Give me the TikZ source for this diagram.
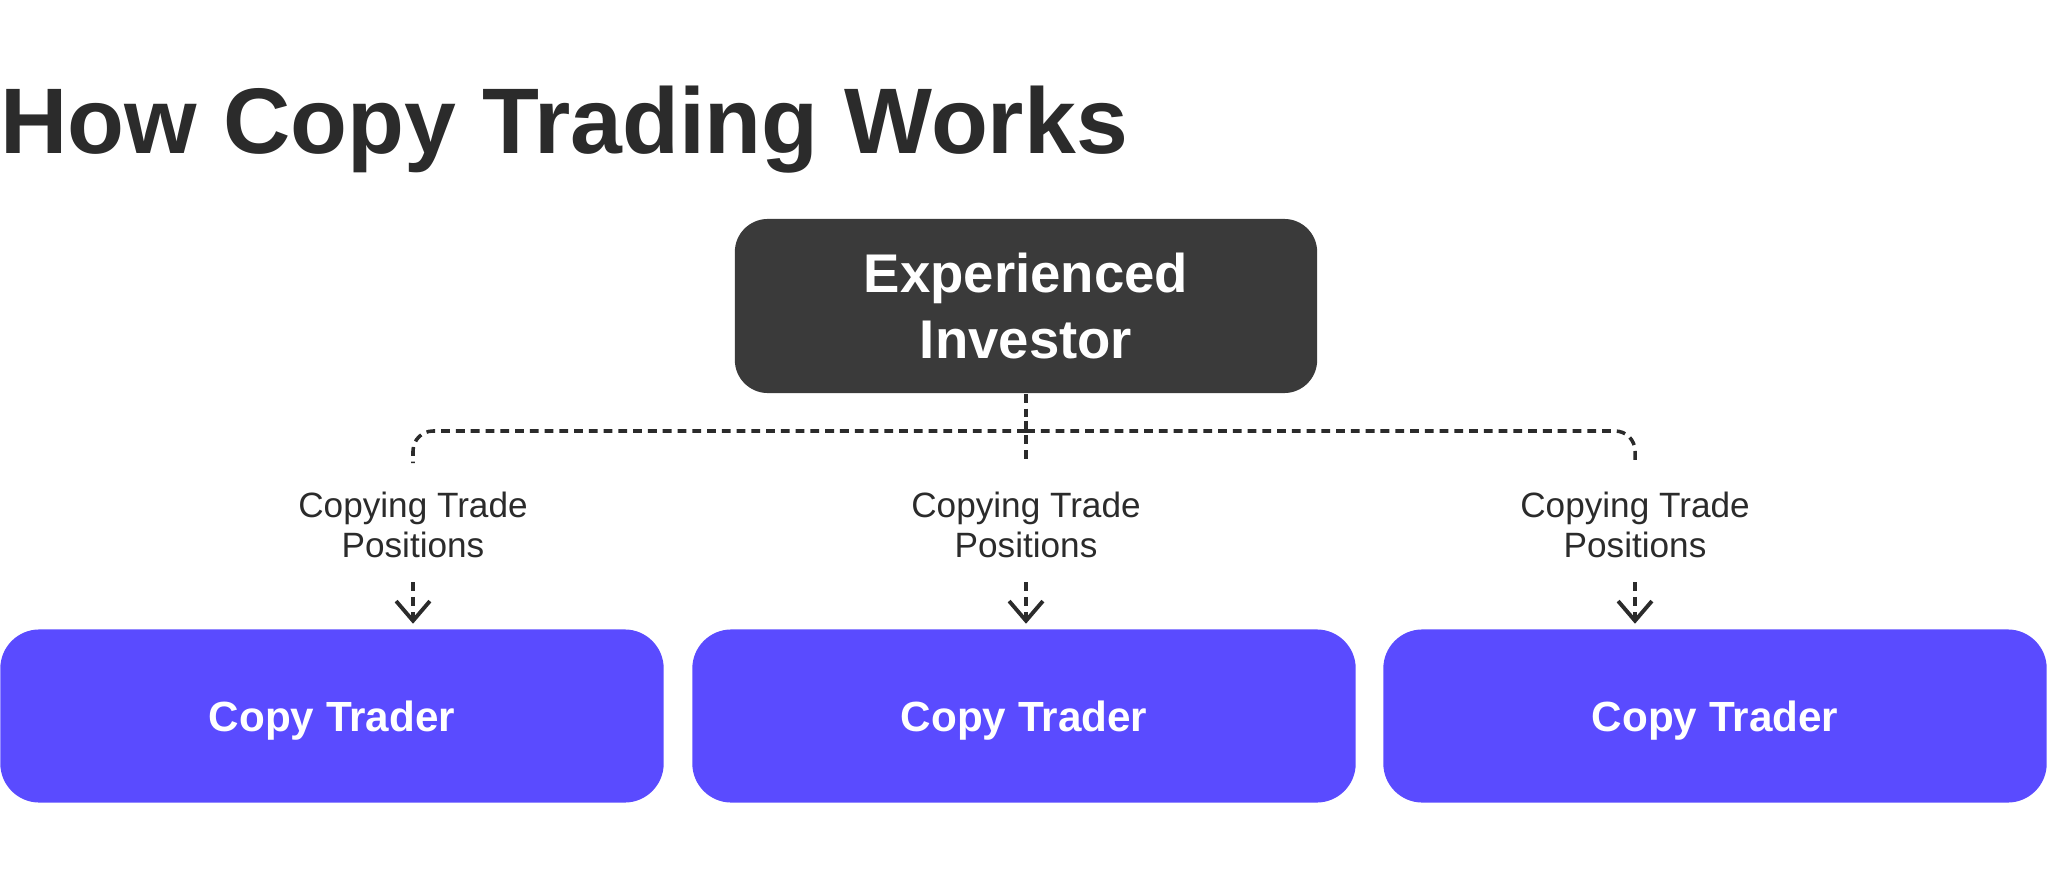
\documentclass[tikz,border=0pt]{standalone}
\usepackage{fontspec}
\setmainfont{Liberation Sans}
\usetikzlibrary{arrows.meta}
\definecolor{ink}{HTML}{2B2B2B}
\definecolor{boxdark}{HTML}{3A3A3A}
\definecolor{traderblue}{HTML}{5A4BFF}
\tikzset{
  dots/.style={draw=ink,line width=1pt,dash pattern=on 2.5pt off 1.7pt},
  box/.style={rectangle,text=white,align=center,inner sep=0pt},
}
\begin{document}
\begin{tikzpicture}[x=0.01cm,y=-0.01cm]
   \useasboundingbox (0,0) rectangle (2048,891);
   \node[anchor=base west,inner sep=0pt,text=ink,font=\fontsize{26.5}{30}\bfseries\selectfont] (title) at (0,154) {How Copy Trading Works};
   \node[box,fill=boxdark,rounded corners=0.33cm,minimum width=5.82cm,minimum height=1.74cm,font=\fontsize{15.5}{18.5}\bfseries\selectfont] (investor) at (1026,306) {Experienced\\Investor};
   \coordinate (hub) at (1026,431);
   \draw[dots] (investor.south) -- (hub);
   \foreach \i/\x/\b in {1/332/413, 2/1024/1026, 3/1715/1635} {
     \node[box,fill=traderblue,rounded corners=0.39cm,minimum width=6.63cm,minimum height=1.73cm,text depth=0pt,font=\fontsize{12}{15}\bfseries\selectfont] (trader\i) at (\x,716) {Copy Trader};
     \node[align=center,text=ink,font=\fontsize{10}{11.3}\selectfont] (label\i) at (\b,525) {Copying Trade\\Positions};
     \coordinate (tap\i) at (\b,463);
     \draw[dots,rounded corners=0.2cm] (hub) -| (tap\i);
     \draw[dots,-{Straight Barb[length=5.6pt,width=9.6pt,line width=1.1pt]},shorten <=0.12cm,shorten >=0.05cm] (label\i.south) -- (label\i.south |- trader\i.north);
   }
\end{tikzpicture}
\end{document}
